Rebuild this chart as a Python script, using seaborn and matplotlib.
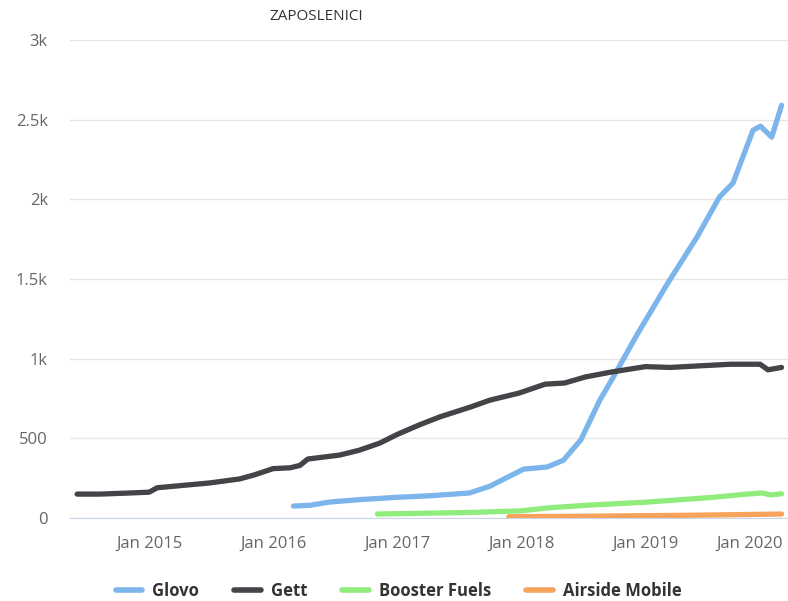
import pandas as pd
import seaborn as sns
import matplotlib.dates as mdates
import matplotlib.transforms as mtransforms
from matplotlib import pyplot as plt
from matplotlib.lines import Line2D
from matplotlib.ticker import FuncFormatter

# Employee counts
glovo_dates = ["2016-03-01", "2016-04-20", "2016-06-15", "2016-09-10", "2017-01-01",
               "2017-04-10", "2017-08-01", "2017-10-01", "2017-11-25", "2018-01-08",
               "2018-03-18", "2018-05-05", "2018-06-25", "2018-08-20", "2018-09-27",
               "2018-12-10", "2019-03-08", "2019-06-02", "2019-08-07", "2019-09-16",
               "2019-11-14", "2019-12-06", "2020-01-08", "2020-02-06"]
glovo_vals = [75, 80, 100, 115, 130, 140, 157, 200, 260, 307, 320, 363, 490, 740, 878,
              1160, 1474, 1763, 2014, 2102, 2434, 2459, 2390, 2590]

gett_dates = ["2014-06-03", "2014-08-08", "2014-11-06", "2015-01-01", "2015-01-25",
              "2015-03-18", "2015-06-28", "2015-09-24", "2015-11-06", "2016-01-01",
              "2016-02-20", "2016-03-20", "2016-04-12", "2016-07-15", "2016-09-10",
              "2016-11-10", "2017-01-01", "2017-03-05", "2017-05-05", "2017-08-05",
              "2017-10-01", "2017-12-25", "2018-03-12", "2018-05-08", "2018-07-08",
              "2018-09-20", "2019-01-01", "2019-03-15", "2019-06-10", "2019-09-08",
              "2019-12-05", "2019-12-28", "2020-02-06"]
gett_vals = [150, 150, 157, 162, 190, 200, 220, 245, 270, 310, 315, 330, 370, 395, 425,
             470, 525, 583, 634, 697, 740, 784, 840, 847, 885, 915, 950, 945, 955, 965,
             965, 930, 945]

booster_dates = ["2016-11-03", "2017-01-01", "2017-08-05", "2018-01-01", "2018-03-18",
                 "2018-07-12", "2019-01-08", "2019-07-20", "2019-10-27", "2019-12-12",
                 "2020-01-04", "2020-02-06"]
booster_vals = [25, 27, 35, 45, 63, 80, 100, 130, 150, 157, 145, 152]

airside_dates = ["2017-11-25", "2018-08-20", "2019-06-10", "2020-02-06"]
airside_vals = [8, 12, 18, 25]

series_names = ["Glovo", "Gett", "Booster Fuels", "Airside Mobile"]
colors = ["#7cb5ec", "#434348", "#90ed7d", "#f7a35c"]

frames = []
for name, d, v in zip(series_names,
                      [glovo_dates, gett_dates, booster_dates, airside_dates],
                      [glovo_vals, gett_vals, booster_vals, airside_vals]):
    frames.append(pd.DataFrame({"date": pd.to_datetime(d), "value": v, "company": name}))
df = pd.concat(frames, ignore_index=True)

sns.set_style("white")
plt.rcParams["font.family"] = ["Open Sans", "DejaVu Sans"]

fig = plt.figure(figsize=(7.88, 6.01), dpi=100)
ax = fig.add_axes([70 / 788, 1 - 518 / 601, 718 / 788, 478 / 601])

sns.lineplot(data=df, x="date", y="value", hue="company", hue_order=series_names,
             palette=colors, linewidth=3.8, legend=False, ax=ax, zorder=3)

ax.set_xlim(pd.Timestamp("2014-05-13"), pd.Timestamp("2020-02-25"))
ax.set_ylim(0, 3000)
ax.set_yticks([0, 500, 1000, 1500, 2000, 2500, 3000])
ax.yaxis.set_major_formatter(FuncFormatter(
    lambda v, p: "0" if v == 0 else (f"{v/1000:g}k" if v >= 1000 else f"{v:g}")))
ax.xaxis.set_major_locator(mdates.YearLocator())
ax.xaxis.set_major_formatter(mdates.DateFormatter("Jan %Y"))

ax.grid(axis="y", color="#e6e6e6", linewidth=1)
ax.set_axisbelow(True)
for s in ["top", "right", "left"]:
    ax.spines[s].set_visible(False)
ax.spines["bottom"].set_color("#ccd6eb")
ax.tick_params(axis="y", length=0, pad=16, labelsize=12, labelcolor="#666666")
ax.tick_params(axis="x", length=9, width=1, color="#ccd6eb", pad=4,
               labelsize=12, labelcolor="#666666")
ax.set_xlabel("")
ax.set_ylabel("")

# last date label is pushed left so it stays inside the figure
fig.canvas.draw()
last = ax.get_xticklabels()[-1]
last.set_transform(last.get_transform() + mtransforms.ScaledTranslation(-20 / 100, 0, fig.dpi_scale_trans))

fig.text(0.401, 0.972, "ZAPOSLENICI", ha="center", va="center", fontsize=11, color="#333333")

handles = [Line2D([0], [0], color=c, linewidth=4) for c in colors]
fig.legend(handles, series_names, loc="center", bbox_to_anchor=(0.506, 0.0166), ncol=4,
           frameon=False, handlelength=1.6, columnspacing=2.1, handletextpad=0.6,
           prop={"weight": "bold", "size": 12}, labelcolor="#333333")

fig.savefig("out.png", dpi=100)
